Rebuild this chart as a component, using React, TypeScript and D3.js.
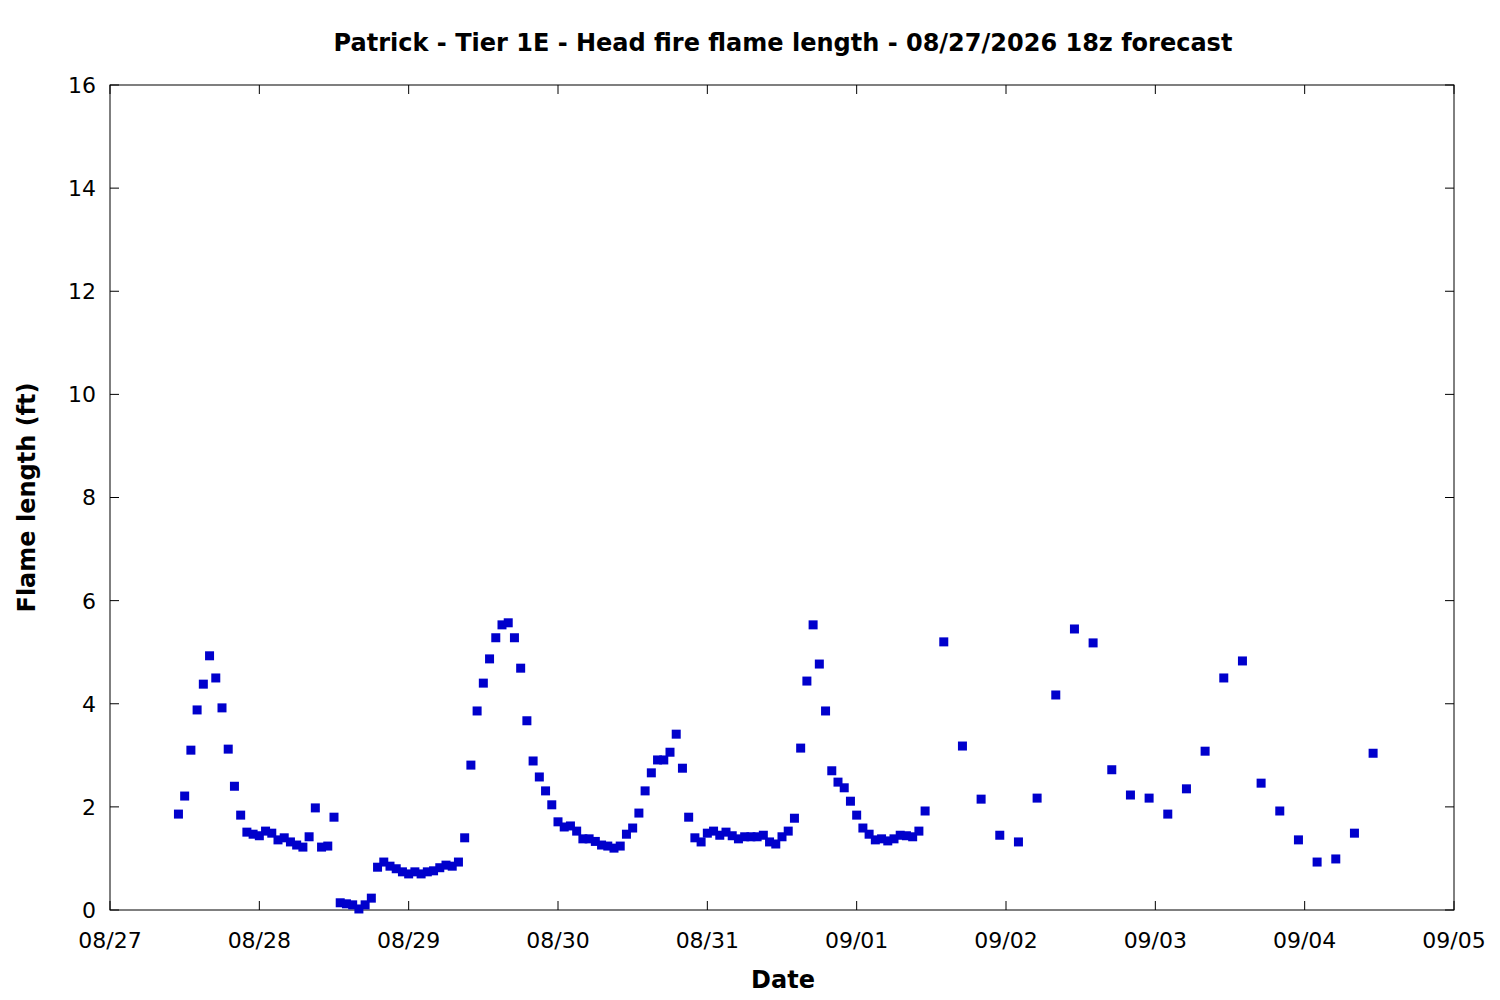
import React from 'react';
import * as d3 from 'd3';

// hourly forecast, starting 08/27 11:00
const hourlyStart = '2026-08-27T11:00:00Z';
const hourlyValues = [
  1.86, 2.21, 3.1, 3.88, 4.38, 4.93, 4.5, 3.92, 3.12, 2.4,
  1.84, 1.51, 1.47, 1.44, 1.53, 1.49, 1.36, 1.4, 1.32, 1.26,
  1.22, 1.42, 1.98, 1.22, 1.24, 1.8, 0.14, 0.12, 0.1, 0.02,
  0.1, 0.23, 0.83, 0.93, 0.85, 0.8, 0.74, 0.7, 0.74, 0.7,
  0.74, 0.76, 0.82, 0.87, 0.85, 0.93, 1.4, 2.81, 3.86, 4.4,
  4.87, 5.28, 5.53, 5.57, 5.28, 4.69, 3.67, 2.89, 2.58, 2.31,
  2.04, 1.71, 1.61, 1.63, 1.53, 1.38, 1.38, 1.33, 1.26, 1.24,
  1.2, 1.24, 1.47, 1.59, 1.88, 2.31, 2.66, 2.91, 2.91, 3.06,
  3.41, 2.75, 1.8, 1.4, 1.32, 1.49, 1.53, 1.45, 1.51, 1.44,
  1.38, 1.42, 1.42, 1.42, 1.45, 1.32, 1.28, 1.42, 1.53, 1.78,
  3.14, 4.44, 5.53, 4.77, 3.86, 2.7, 2.48, 2.37, 2.11, 1.84,
  1.59, 1.47, 1.36, 1.38, 1.34, 1.38, 1.45, 1.44, 1.42, 1.53,
  1.92,
];

// 3-hourly forecast, starting 09/01 14:00
const threeHourlyStart = '2026-09-01T14:00:00Z';
const threeHourlyValues = [
  5.2, 3.18, 2.15, 1.45, 1.32, 2.17, 4.17, 5.45, 5.18, 2.72,
  2.23, 2.17, 1.86, 2.35, 3.08, 4.5, 4.83, 2.46, 1.92, 1.36,
  0.93, 0.99, 1.49, 3.04,
];

const xTickLabels = ['08/27', '08/28', '08/29', '08/30', '08/31', '09/01', '09/02', '09/03', '09/04', '09/05'];
const yTicks = [0, 2, 4, 6, 8, 10, 12, 14, 16];

const title = 'Patrick - Tier 1E - Head fire flame length - 08/27/2026 18z forecast';

const W = 1500;
const H = 1000;
const left = 110;
const right = 1454;
const top = 85;
const bottom = 910;
const font = 'DejaVu Sans, sans-serif';
const color = '#0000cc';

const points = [
  ...hourlyValues.map((v, i) => ({ t: d3.utcHour.offset(new Date(hourlyStart), i), v })),
  ...threeHourlyValues.map((v, i) => ({ t: d3.utcHour.offset(new Date(threeHourlyStart), i * 3), v })),
];

export default function App() {
  const x = d3.scaleUtc()
    .domain([new Date('2026-08-27T00:00:00Z'), new Date('2026-09-05T00:00:00Z')])
    .range([left, right]);
  const y = d3.scaleLinear().domain([0, 16]).range([bottom, top]);
  const xTicks = d3.utcDay.range(new Date('2026-08-27T00:00:00Z'), new Date('2026-09-05T12:00:00Z'));
  const tickLen = 9;
  const s = 9;

  return (
    <svg width={W} height={H} style={{ position: 'absolute', left: 0, top: 0, background: '#fff' }}>
      <rect x={left} y={top} width={right - left} height={bottom - top} fill="none" stroke="#000" strokeWidth={1} />
      {yTicks.map((t) => (
        <g key={'y' + t}>
          <line x1={left} x2={left + tickLen} y1={y(t)} y2={y(t)} stroke="#000" />
          <line x1={right} x2={right - tickLen} y1={y(t)} y2={y(t)} stroke="#000" />
          <text x={left - 14} y={y(t)} dy="0.36em" textAnchor="end" fontFamily={font} fontSize={22}>{t}</text>
        </g>
      ))}
      {xTicks.map((t, i) => (
        <g key={'x' + i}>
          <line x1={x(t)} x2={x(t)} y1={bottom} y2={bottom - tickLen} stroke="#000" />
          <line x1={x(t)} x2={x(t)} y1={top} y2={top + tickLen} stroke="#000" />
          <text x={x(t)} y={bottom + 38} textAnchor="middle" fontFamily={font} fontSize={22}>{xTickLabels[i]}</text>
        </g>
      ))}
      {points.map((p, i) => (
        <rect key={i} x={x(p.t) - s / 2} y={y(p.v) - s / 2} width={s} height={s} fill={color} />
      ))}
      <text x={783} y={51} textAnchor="middle" fontFamily={font} fontSize={24} fontWeight="bold">{title}</text>
      <text x={783} y={988} textAnchor="middle" fontFamily={font} fontSize={24} fontWeight="bold">Date</text>
      <text transform={`translate(35, ${(top + bottom) / 2}) rotate(-90)`} textAnchor="middle" fontFamily={font} fontSize={24} fontWeight="bold">Flame length (ft)</text>
    </svg>
  );
}
